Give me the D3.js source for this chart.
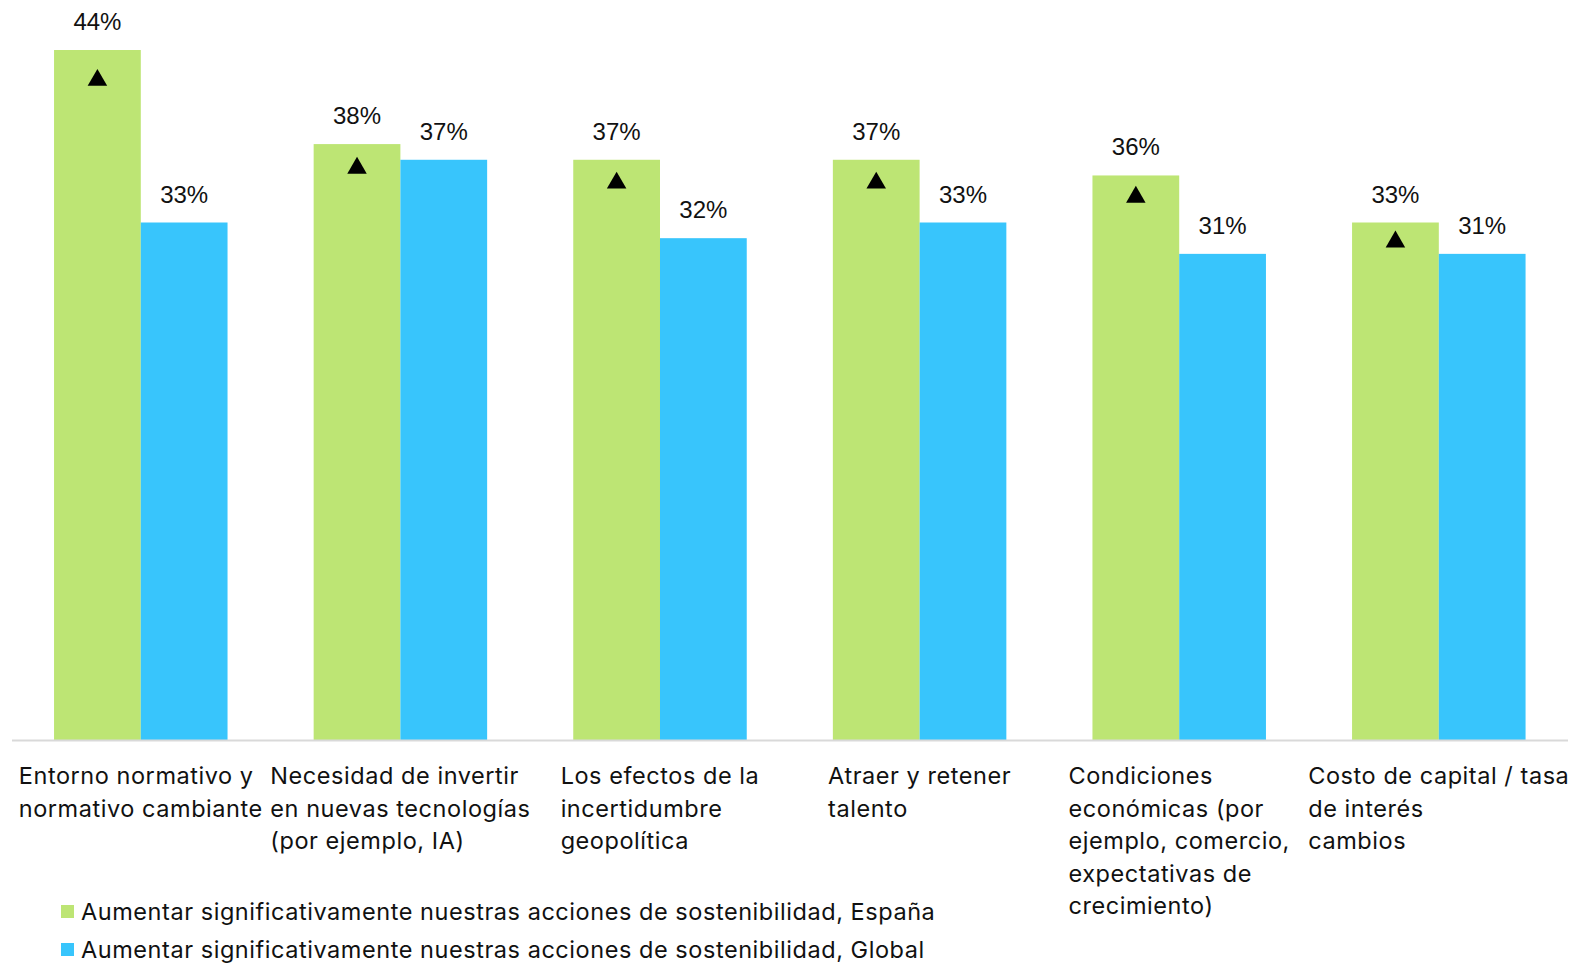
<!DOCTYPE html>
<html lang="es">
<head>
    <meta charset="UTF-8">
    <title>Acciones de sostenibilidad</title>
    <script src="https://cdnjs.cloudflare.com/ajax/libs/d3/7.8.5/d3.min.js"></script>
    <style>
        body {
            margin: 0;
            background: white;
        }
        svg {
            display: block;
        }
        .cat, .legend text {
            font-family: Inter, "Open Sans", sans-serif;
            font-size: 23.5px;
            letter-spacing: 0.55px;
            fill: #111;
        }
        .val {
            font-family: "Liberation Sans", Arial, sans-serif;
            font-size: 24px;
            fill: #111;
        }
    </style>
</head>
<body>
    <div class="chart"></div>
    <script>
        // categories, each one already split in lines as in the original
        const categories = [
            ['Entorno normativo y', 'normativo cambiante'],
            ['Necesidad de invertir', 'en nuevas tecnologías', '(por ejemplo, IA)'],
            ['Los efectos de la', 'incertidumbre', 'geopolítica'],
            ['Atraer y retener', 'talento'],
            ['Condiciones', 'económicas (por', 'ejemplo, comercio,', 'expectativas de', 'crecimiento)'],
            ['Costo de capital / tasa', 'de interés', 'cambios']
        ];
        const espana = [44, 38, 37, 37, 36, 33];
        const global = [33, 37, 32, 33, 31, 31];
        // where the little triangle sits inside the España bar (in % units)
        const triangles = [42.2, 36.6, 35.65, 35.65, 34.75, 31.9];
        const seriesNames = [
            'Aumentar significativamente nuestras acciones de sostenibilidad, España',
            'Aumentar significativamente nuestras acciones de sostenibilidad, Global'
        ];
        const colors = ['#BDE574', '#38C5FC'];

        const width = 1572, height = 963;
        const baseY = 740;

        const svg = d3.select('.chart')
            .append('svg')
            .attr('width', width)
            .attr('height', height);

        const x = d3.scaleBand()
            .domain(d3.range(categories.length))
            .range([11, 1568.6])
            .paddingInner(0.3317)
            .paddingOuter(0.1658);

        const xs = d3.scaleBand()
            .domain([0, 1])
            .range([0, x.bandwidth()]);

        const y = d3.scaleLinear()
            .domain([0, 44])
            .range([baseY, 50]);

        const data = [];
        categories.forEach(function(c, i) {
            data.push({ cat: i, s: 0, v: espana[i] });
            data.push({ cat: i, s: 1, v: global[i] });
        });

        svg.selectAll('.bar')
            .data(data)
            .enter()
            .append('rect')
            .attr('class', 'bar')
            .attr('x', d => x(d.cat) + xs(d.s))
            .attr('y', d => y(d.v))
            .attr('width', xs.bandwidth())
            .attr('height', d => baseY - y(d.v))
            .attr('fill', d => colors[d.s]);

        svg.selectAll('.val')
            .data(data)
            .enter()
            .append('text')
            .attr('class', 'val')
            .attr('x', d => x(d.cat) + xs(d.s) + xs.bandwidth() / 2)
            .attr('y', d => y(d.v) - 20)
            .attr('text-anchor', 'middle')
            .text(d => d.v + '%');

        // triangles (symbol is drawn round its centroid, nudge it down a bit)
        const tri = d3.symbol().type(d3.symbolTriangle).size(165);
        svg.selectAll('.tri')
            .data(triangles)
            .enter()
            .append('path')
            .attr('class', 'tri')
            .attr('d', tri)
            .attr('transform', (d, i) => 'translate(' + (x(i) + xs.bandwidth() / 2) + ',' + (y(d) + 2) + ')')
            .attr('fill', '#000');

        // x axis line
        svg.append('line')
            .attr('x1', 12)
            .attr('x2', 1568)
            .attr('y1', baseY + 0.5)
            .attr('y2', baseY + 0.5)
            .attr('stroke', '#d9d9d9')
            .attr('stroke-width', 2);

        // category labels: block centred under the group, lines left aligned
        categories.forEach(function(lines, i) {
            const t = svg.append('text').attr('class', 'cat');
            lines.forEach(function(l, j) {
                t.append('tspan')
                    .attr('y', 784 + j * 32.5)
                    .text(l);
            });
            let maxW = 0;
            t.selectAll('tspan').each(function() {
                maxW = Math.max(maxW, this.getComputedTextLength());
            });
            t.selectAll('tspan').attr('x', x(i) + x.bandwidth() / 2 - maxW / 2);
        });

        // legend
        const legend = svg.append('g').attr('class', 'legend');
        seriesNames.forEach(function(n, i) {
            legend.append('rect')
                .attr('x', 61)
                .attr('y', 905 + i * 38)
                .attr('width', 13)
                .attr('height', 13)
                .attr('fill', colors[i]);
            legend.append('text')
                .attr('x', 81)
                .attr('y', 920 + i * 38)
                .text(n);
        });
    </script>
</body>
</html>
